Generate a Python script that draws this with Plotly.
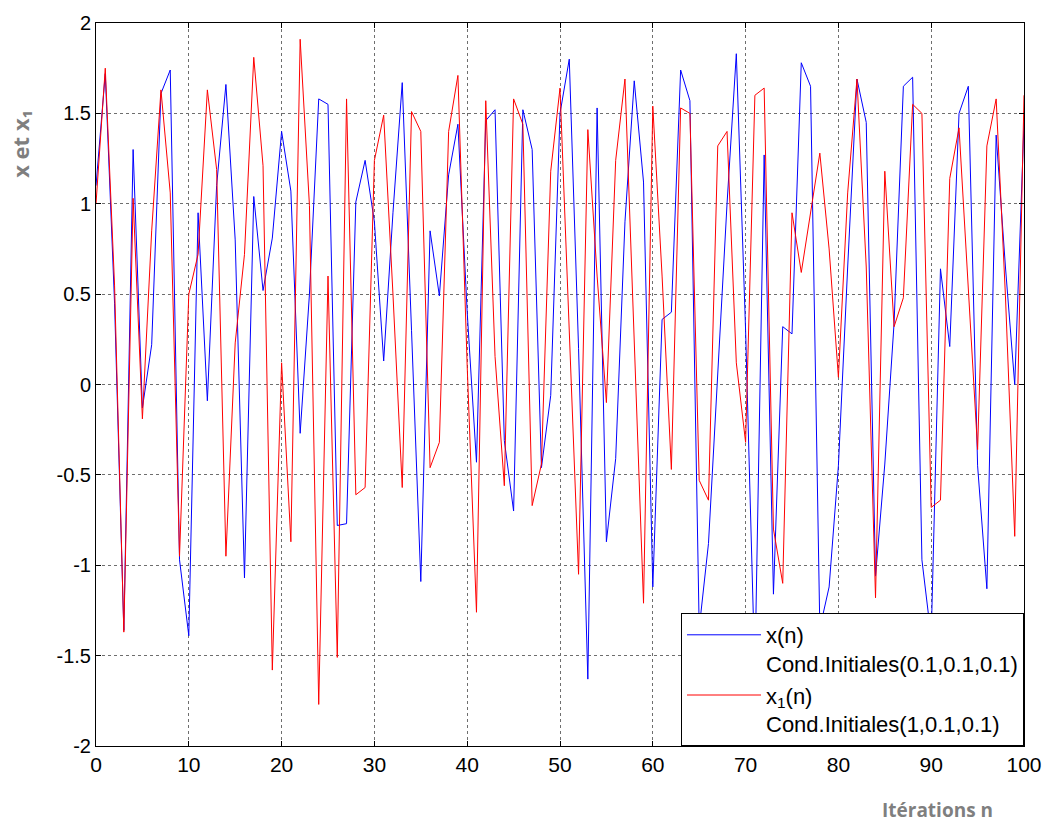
import plotly.graph_objects as go

n = list(range(101))

x_n = [1.10, 1.72, 0.45, -1.36, 1.30, -0.13, 0.22, 1.61, 1.74, -0.97,
       -1.39, 0.95, -0.09, 1.10, 1.66, 0.80, -1.07, 1.04, 0.52, 0.81,
       1.40, 1.07, -0.27, 0.50, 1.58, 1.55, -0.78, -0.77, 1.01, 1.24,
       0.90, 0.13, 0.95, 1.67, 0.30, -1.09, 0.85, 0.49, 1.16, 1.44,
       0.40, -0.43, 1.46, 1.52, -0.31, -0.70, 1.52, 1.30, -0.46, -0.06,
       1.50, 1.80, 0.20, -1.63, 1.53, -0.87, -0.41, 0.90, 1.68, 1.12,
       -1.12, 0.36, 0.40, 1.74, 1.57, -1.35, -0.88, 0.05, 1.00, 1.83,
       0.30, -1.60, 1.27, -1.16, 0.32, 0.28, 1.78, 1.65, -1.35, -1.12,
       -0.45, 0.65, 1.69, 1.45, -1.06, -0.44, 0.34, 1.65, 1.70, -0.97,
       -1.40, 0.64, 0.21, 1.50, 1.65, -0.45, -1.13, 1.38, 0.65, 0.00,
       1.45]

x1_n = [1.00, 1.75, 0.55, -1.37, 1.03, -0.19, 0.85, 1.63, 1.06, -0.95,
        0.50, 0.72, 1.63, 1.19, -0.95, 0.23, 0.72, 1.81, 1.21, -1.58,
        0.12, -0.87, 1.91, 0.99, -1.77, 0.60, -1.51, 1.58, -0.61, -0.57,
        1.24, 1.49, 0.50, -0.57, 1.51, 1.40, -0.46, -0.32, 1.40, 1.71,
        0.10, -1.26, 1.57, 0.155, -0.56, 1.58, 1.44, -0.67, -0.44, 1.18,
        1.64, 0.30, -1.05, 1.41, 0.60, -0.10, 1.24, 1.69, 0.20, -1.21,
        1.54, 0.60, -0.47, 1.53, 1.50, -0.53, -0.64, 1.32, 1.40, 0.12,
        -0.32, 1.60, 1.64, -0.80, -1.10, 0.95, 0.62, 0.95, 1.28, 0.75,
        0.04, 1.06, 1.69, 0.65, -1.18, 1.18, 0.32, 0.48, 1.55, 1.50,
        -0.68, -0.64, 1.14, 1.42, 0.50, -0.36, 1.32, 1.58, 0.49, -0.84,
        1.60]

name_x = "x(n)<br>Cond.Initiales(0.1,0.1,0.1)"
name_x1 = "x<sub>1</sub>(n)<br>Cond.Initiales(1,0.1,0.1)"

x_ticks = [0, 10, 20, 30, 40, 50, 60, 70, 80, 90, 100]
y_ticks = [-2, -1.5, -1, -0.5, 0, 0.5, 1, 1.5, 2]
y_tick_text = ["-2", "-1.5", "-1", "-0.5", "0", "0.5", "1", "1.5", "2"]

fig = go.Figure()
fig.add_trace(go.Scatter(x=n, y=x_n, mode="lines", name=name_x,
                         line=dict(color="#0000FF", width=1)))
fig.add_trace(go.Scatter(x=n, y=x1_n, mode="lines", name=name_x1,
                         line=dict(color="#FF0000", width=1)))

axis_common = dict(
    showline=True, linecolor="black", linewidth=1, mirror="allticks",
    ticks="inside", ticklen=5, tickcolor="black",
    showgrid=True, gridcolor="#6e6e6e", griddash="dot", gridwidth=1,
    zeroline=False,
)

fig.update_layout(
    width=1054, height=826,
    margin=dict(l=96, r=22, t=18, b=80),
    plot_bgcolor="white", paper_bgcolor="white",
    showlegend=True,
    legend=dict(
        x=1, y=0, xanchor="right", yanchor="bottom",
        bgcolor="white", bordercolor="black", borderwidth=1,
        font=dict(family="Liberation Sans, Arial, sans-serif", size=22, color="black"),
        itemwidth=74, valign="top", tracegroupgap=10,
    ),
    xaxis=dict(range=[0, 100], tickvals=x_ticks,
               tickfont=dict(family="Liberation Sans Narrow, Arial Narrow, Liberation Sans, sans-serif",
                             size=21, color="black"),
               **axis_common),
    yaxis=dict(range=[-2, 2], tickvals=y_ticks, ticktext=y_tick_text,
               tickfont=dict(family="Liberation Sans, Arial, sans-serif", size=20, color="black"),
               **axis_common),
    annotations=[
        dict(text="x et x₁", xref="paper", yref="paper",
             x=-96 / 936 + 20 / 936, y=(746 - 140) / 728,
             xanchor="center", yanchor="middle", textangle=-90, showarrow=False,
             font=dict(family="Open Sans, Lato, sans-serif", size=22, color="#7f7f7f", weight="bold")),
        dict(text="Itérations n", xref="paper", yref="paper",
             x=(945 - 96) / 936, y=-(810 - 746) / 728,
             xanchor="center", yanchor="middle", showarrow=False,
             font=dict(family="Open Sans, Lato, sans-serif", size=19, color="#7f7f7f", weight="bold")),
    ],
)

fig.write_html("out.html")
